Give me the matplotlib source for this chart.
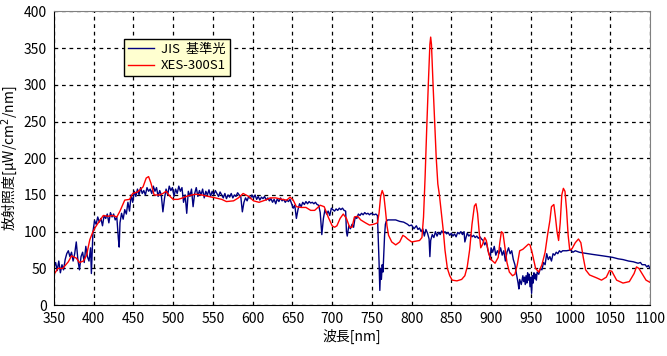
import matplotlib.pyplot as plt

plt.rcParams['font.family'] = ['Noto Sans CJK JP', 'DejaVu Sans']

# JIS 基準光 (wavelength nm, irradiance)
jis_nm = [350, 352, 354, 356, 358, 360, 362, 364, 366, 368, 370, 372, 374, 376, 378, 380, 382, 384, 386, 388,
          390, 392, 394, 396, 397, 399, 401, 403, 405, 407, 409, 411, 413, 415, 417, 419, 421, 423, 425, 427,
          429, 431, 432, 433, 435, 437, 439, 441, 443, 445, 447, 449, 451, 453, 455, 457, 459, 461, 463, 465,
          467, 469, 471, 473, 475, 477, 479, 481, 483, 485, 487, 489, 491, 493, 495, 497, 499, 501, 503, 505,
          507, 509, 511, 513, 515, 517, 519, 521, 523, 525, 527, 529, 531, 533, 535, 537, 539, 541, 543, 545,
          547, 549, 551, 553, 555, 557, 559, 561, 563, 565, 567, 569, 571, 573, 575, 577, 579, 581, 583, 585,
          587, 589, 591, 593, 595, 597, 599, 601, 603, 605, 607, 609, 611, 613, 615, 617, 619, 621, 623, 625,
          627, 629, 631, 633, 635, 637, 639, 641, 643, 645, 647, 649, 651, 653, 655, 657, 659, 661, 663, 665,
          667, 669, 671, 673, 675, 677, 679, 681, 683, 685, 687, 689, 691, 693, 695, 697, 699, 701, 703, 705,
          707, 709, 711, 713, 715, 717, 718, 719, 721, 723, 725, 727, 729, 731, 733, 735, 737, 739, 741, 743,
          745, 747, 749, 751, 753, 755, 757, 758, 759, 760, 761, 762, 763, 764, 765, 766, 767, 768, 770, 775,
          780, 785, 790, 795, 797, 800, 803, 806, 808, 810, 812, 814, 816, 818, 820, 822, 823, 824, 826, 828,
          830, 832, 834, 836, 838, 840, 842, 844, 846, 848, 850, 852, 854, 856, 858, 860, 862, 864, 866, 867,
          868, 870, 872, 874, 876, 878, 880, 882, 884, 886, 888, 890, 892, 894, 896, 898, 899, 900, 902, 904,
          906, 908, 910, 912, 914, 916, 918, 920, 922, 924, 926, 928, 930, 932, 934, 935, 936, 938, 940, 941,
          942, 943, 944, 945, 946, 947, 948, 949, 950, 951, 952, 953, 954, 955, 956, 957, 958, 960, 962, 964,
          966, 968, 970, 972, 974, 976, 978, 980, 982, 984, 986, 988, 990, 995, 1000, 1003, 1006, 1011, 1016, 1022,
          1028, 1035, 1041, 1047, 1053, 1060, 1066, 1073, 1079, 1085, 1088, 1090, 1094, 1096, 1098, 1100]
jis_val = [52, 58, 47, 60, 44, 55, 48, 62, 70, 74, 66, 72, 60, 70, 86, 62, 48, 66, 72, 58,
           80, 66, 60, 78, 43, 100, 115, 110, 120, 113, 118, 108, 122, 118, 124, 112, 126, 120, 124, 116,
           120, 90, 79, 112, 125, 117, 130, 124, 140, 128, 150, 140, 155, 148, 158, 150, 160, 152, 156, 150,
           160, 155, 158, 152, 162, 155, 160, 148, 156, 150, 127, 145, 158, 150, 162, 156, 160, 148, 158, 152,
           162, 155, 160, 140, 150, 125, 155, 148, 158, 134, 152, 160, 148, 156, 150, 158, 146, 155, 150, 157,
           148, 155, 150, 156, 152, 148, 154, 150, 146, 152, 145, 150, 147, 152, 146, 150, 148, 153, 150, 148,
           127, 140, 146, 142, 148, 145, 150, 146, 150, 144, 148, 143, 147, 145, 148, 143, 146, 142, 145, 140,
           144, 138, 145, 141, 146, 142, 144, 140, 143, 141, 144, 138, 132, 136, 118, 130, 138, 134, 140, 137,
           141, 138, 141, 139, 140, 138, 140, 137, 136, 126, 96, 118, 130, 124, 128, 122, 132, 130, 128, 131,
           129, 132, 130, 132, 129, 128, 100, 94, 108, 104, 110, 106, 120, 118, 124, 122, 125, 123, 126, 124,
           125, 123, 125, 124, 123, 124, 122, 90, 60, 20, 50, 35, 55, 45, 70, 95, 110, 114, 116, 116,
           116, 114, 113, 110, 108, 109, 104, 108, 103, 105, 100, 104, 94, 103, 98, 90, 66, 88, 96, 92,
           100, 94, 99, 96, 101, 98, 100, 97, 99, 95, 98, 94, 97, 93, 99, 97, 100, 96, 100, 86,
           90, 98, 94, 96, 93, 95, 92, 94, 91, 93, 90, 88, 82, 86, 75, 68, 62, 78, 72, 80,
           68, 74, 70, 78, 68, 74, 60, 72, 78, 70, 74, 62, 55, 42, 30, 22, 35, 28, 40, 32,
           38, 28, 40, 30, 44, 34, 42, 25, 38, 16, 40, 30, 44, 36, 42, 34, 45, 42, 50, 48,
           58, 55, 70, 62, 66, 60, 70, 68, 72, 70, 74, 72, 74, 74, 75, 72, 74, 72, 71, 70,
           69, 68, 67, 66, 65, 63, 62, 60, 59, 57, 58, 55, 55, 52, 54, 50]

# XES-300S1
xes_nm = [350, 355, 361, 368, 372, 378, 382, 387, 391, 395, 399, 402, 405, 412, 418, 424, 429, 433, 439, 445,
          449, 455, 462, 466, 469, 472, 476, 483, 487, 491, 496, 500, 506, 512, 519, 528, 536, 544, 553, 561,
          567, 576, 582, 588, 595, 601, 608, 616, 622, 629, 637, 643, 647, 651, 655, 661, 667, 673, 678, 685,
          690, 695, 700, 703, 706, 710, 714, 718, 722, 725, 728, 732, 736, 742, 747, 752, 757, 759, 761, 763,
          765, 767, 769, 771, 775, 780, 785, 789, 792, 795, 800, 805, 810, 813, 815, 817, 819, 821, 823, 824,
          825, 827, 829, 831, 833, 835, 838, 840, 842, 845, 848, 851, 857, 863, 867, 870, 873, 876, 879, 881,
          883, 885, 887, 889, 892, 894, 897, 900, 905, 909, 911, 913, 915, 917, 920, 923, 927, 930, 933, 936,
          940, 944, 947, 949, 952, 956, 960, 964, 968, 971, 974, 976, 979, 981, 983, 985, 987, 989, 991, 993,
          995, 997, 999, 1002, 1006, 1010, 1013, 1016, 1019, 1024, 1033, 1039, 1045, 1049, 1052, 1058, 1066, 1074, 1080, 1083,
          1086, 1091, 1095, 1100]
xes_val = [42, 50, 50, 59, 67, 64, 58, 60, 68, 89, 100, 106, 111, 122, 121, 122, 120, 128, 143, 144,
           152, 154, 161, 173, 175, 166, 150, 150, 152, 155, 148, 144, 144, 146, 149, 151, 150, 148, 146, 144,
           141, 142, 146, 152, 148, 142, 140, 143, 146, 146, 144, 143, 147, 143, 134, 133, 133, 129, 129, 136,
           134, 120, 108, 106, 108, 118, 124, 118, 106, 106, 120, 121, 116, 112, 109, 110, 112, 125, 148, 156,
           150, 130, 108, 95, 86, 82, 86, 95, 93, 90, 86, 87, 88, 92, 120, 175, 240, 300, 355, 365,
           355, 300, 250, 200, 165, 150, 120, 100, 75, 50, 40, 34, 33, 35, 40, 52, 75, 110, 135, 138,
           125, 100, 78, 82, 92, 88, 70, 62, 57, 65, 85, 100, 98, 82, 58, 45, 40, 42, 55, 74,
           76, 80, 83, 82, 70, 50, 45, 55, 72, 95, 115, 134, 137, 120, 100, 88, 112, 150, 159, 155,
           130, 95, 75, 77, 85, 90, 85, 65, 48, 41, 37, 34, 38, 47, 46, 34, 30, 32, 43, 52,
           50, 41, 34, 31]

fig, ax = plt.subplots(figsize=(6.67, 3.56), dpi=100)
fig.subplots_adjust(left=0.081, right=0.9745, top=0.968, bottom=0.143)

ax.plot(jis_nm, jis_val, color='#000080', lw=1.0, label='JIS  基準光')
ax.plot(xes_nm, xes_val, color='#FF0000', lw=1.0, label='XES-300S1')

ax.set_xlim(350, 1100)
ax.set_ylim(0, 400)
ax.set_xticks(range(350, 1101, 50))
ax.set_yticks(range(0, 401, 50))
ax.tick_params(length=0, labelsize=10, pad=5)
ax.grid(True, color='black', linestyle=(0, (3, 3)), lw=0.9)
ax.set_axisbelow(True)

for s in ['top', 'right']:
    ax.spines[s].set_color('#808080')
for s in ['left', 'bottom']:
    ax.spines[s].set_color('black')

ax.set_xlabel('波長[nm]', fontsize=10, labelpad=2)
ax.set_ylabel('放射照度[μW/cm$^2$/nm]', fontsize=10, labelpad=3)

leg = ax.legend(loc='upper left', bbox_to_anchor=(0.117, 0.906), borderaxespad=0,
                fancybox=False, framealpha=1, facecolor='#FFFFD0', edgecolor='black',
                fontsize=9.5, handlelength=2.0, labelspacing=0.25, borderpad=0.3,
                handletextpad=0.5)
leg.get_frame().set_linewidth(1.0)

fig.savefig('out.png', dpi=100)
